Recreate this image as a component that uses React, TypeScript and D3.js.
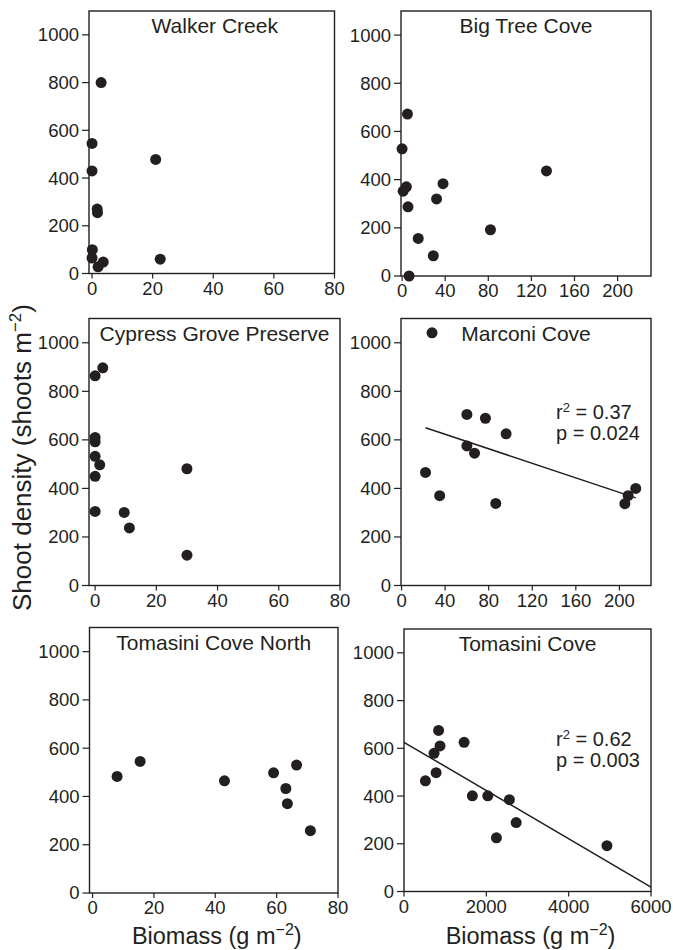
import React from 'react'
import { scaleLinear, mean } from 'd3'

type Pt = [number, number]

// tick values
const yTicks = [0, 200, 400, 600, 800, 1000]
const ticks80 = [0, 20, 40, 60, 80]
const ticks200 = [0, 40, 80, 120, 160, 200]
const ticks6000 = [0, 2000, 4000, 6000]

// biomass (g m-2), shoot density (shoots m-2)
const walkerCreek: Pt[] = [
  [3, 800], [0, 545], [0, 430], [21, 478], [1.7, 270], [1.8, 255],
  [0.1, 100], [0, 65], [2, 28], [3.7, 48], [22.5, 60]
]
const bigTreeCove: Pt[] = [
  [5, 672], [0, 528], [4, 370], [1, 352], [5.5, 287], [32, 320],
  [38, 383], [134, 436], [82, 192], [15, 156], [29, 84], [6.5, 0]
]
const cypressGrove: Pt[] = [
  [2.5, 897], [0, 864], [0, 610], [0, 592], [0, 532], [1.5, 497],
  [0, 450], [0, 305], [30, 481], [9.5, 301], [11.2, 237], [30, 125]
]
const marconiCove: Pt[] = [
  [28, 1041], [60, 705], [77, 689], [96, 625], [60, 575], [67, 545],
  [22, 466], [35, 370], [86.5, 338], [215, 400], [208, 370], [205, 337]
]
const tomasiniNorth: Pt[] = [
  [8, 483], [15.5, 545], [43, 465], [59, 498], [66.5, 530], [63, 433],
  [63.5, 370], [71, 258]
]
const tomasiniCove: Pt[] = [
  [840, 675], [875, 610], [730, 579], [780, 498], [520, 464], [1460, 625],
  [1660, 401], [2035, 401], [2560, 385], [2725, 289], [2245, 225], [4930, 192]
]

const marconiStats = { r2: '0.37', p: '0.024' }
const tomasiniStats = { r2: '0.62', p: '0.003' }

const INK = '#231f20'
const FONT = '"Liberation Sans", Arial, Helvetica, sans-serif'

type PanelDef = {
  title: string
  data: Pt[]
  xDomain: [number, number]
  xTicks: number[]
  frame: [number, number, number, number] // left, top, right, bottom
  titleDx?: number
  fit?: 'data' | 'axis'
  stats?: { r2: string; p: string }
  statsAt?: [number, number]
}

const panels: PanelDef[] = [
  { title: 'Walker Creek', data: walkerCreek, xDomain: [-1, 80], xTicks: ticks80, frame: [89, 11, 334.5, 273.5], titleDx: 3 },
  { title: 'Big Tree Cove', data: bigTreeCove, xDomain: [-1, 231], xTicks: ticks200, frame: [401, 11, 651, 276] },
  { title: 'Cypress Grove Preserve', data: cypressGrove, xDomain: [-2, 80], xTicks: ticks80, frame: [89, 318.5, 340, 585.5] },
  {
    title: 'Marconi Cove', data: marconiCove, xDomain: [-0.5, 229], xTicks: ticks200, frame: [401, 318.5, 651, 585.5],
    fit: 'data', stats: marconiStats, statsAt: [155, 100.5]
  },
  { title: 'Tomasini Cove North', data: tomasiniNorth, xDomain: [-1, 80], xTicks: ticks80, frame: [89.5, 627.5, 338, 893] },
  {
    title: 'Tomasini Cove', data: tomasiniCove, xDomain: [0, 6000], xTicks: ticks6000, frame: [404, 629, 651, 891.5],
    fit: 'axis', stats: tomasiniStats, statsAt: [152, 117]
  }
]

// ordinary least squares
const ols = (data: Pt[]) => {
  const mx = mean(data, (d) => d[0]) as number
  const my = mean(data, (d) => d[1]) as number
  let sxy = 0
  let sxx = 0
  data.forEach(([a, b]) => {
    sxy += (a - mx) * (b - my)
    sxx += (a - mx) * (a - mx)
  })
  const slope = sxy / sxx
  return { slope, intercept: my - slope * mx }
}

const Panel: React.FC<{ p: PanelDef }> = ({ p }) => {
  const [l, t, r, b] = p.frame
  const x = scaleLinear().domain(p.xDomain).range([l, r])
  const y = scaleLinear().domain([0, 1100]).range([b, t])

  let fitLine = null
  if (p.fit) {
    const { slope, intercept } = ols(p.data)
    const xs = p.data.map((d) => d[0])
    const x0 = p.fit === 'data' ? Math.min(...xs) : p.xDomain[0]
    const x1 = p.fit === 'data' ? Math.max(...xs) : p.xDomain[1]
    fitLine = (
      <line x1={x(x0)} y1={y(intercept + slope * x0)} x2={x(x1)} y2={y(intercept + slope * x1)}
        stroke={INK} strokeWidth={1.5} />
    )
  }

  return (
    <g>
      <rect x={l} y={t} width={r - l} height={b - t} fill="none" stroke={INK} strokeWidth={1.4} />
      {yTicks.map((v) => (
        <g key={'y' + v}>
          <line x1={l - 7} x2={l} y1={y(v)} y2={y(v)} stroke={INK} strokeWidth={1.2} />
          <text x={l - 10} y={y(v)} dy="0.35em" textAnchor="end" fontSize={18.5}>{v}</text>
        </g>
      ))}
      {p.xTicks.map((v) => (
        <g key={'x' + v}>
          <line x1={x(v)} x2={x(v)} y1={b} y2={b + 5} stroke={INK} strokeWidth={1.2} />
          <text x={x(v)} y={b + 8} dy="0.72em" textAnchor="middle" fontSize={18.5}>{v}</text>
        </g>
      ))}
      <text x={(l + r) / 2 + (p.titleDx || 0)} y={t + 22} textAnchor="middle" fontSize={21}>{p.title}</text>
      {fitLine}
      {p.data.map((d, i) => (
        <circle key={i} cx={x(d[0])} cy={y(d[1])} r={5.5} fill={INK} />
      ))}
      {p.stats && p.statsAt && (
        <g fontSize={20}>
          <text x={l + p.statsAt[0]} y={t + p.statsAt[1]}>
            r<tspan dy={-7} fontSize={13}>2</tspan><tspan dy={7}> = {p.stats.r2}</tspan>
          </text>
          <text x={l + p.statsAt[0]} y={t + p.statsAt[1] + 21}>p = {p.stats.p}</text>
        </g>
      )}
    </g>
  )
}

export default function App() {
  return (
    <svg width={673} height={950} style={{ position: 'absolute', left: 0, top: 0, background: '#fff' }}
      fontFamily={FONT} fill={INK}>
      {panels.map((p) => <Panel key={p.title} p={p} />)}
      <text transform="translate(31, 457.5) rotate(-90)" textAnchor="middle" fontSize={26}>
        Shoot density (shoots m<tspan dy={-10} fontSize={17}>−2</tspan><tspan dy={10}>)</tspan>
      </text>
      {[panels[4], panels[5]].map((p) => (
        <text key={'xl' + p.title} x={(p.frame[0] + p.frame[2]) / 2 + 3} y={944} textAnchor="middle" fontSize={23.5}>
          Biomass (g m<tspan dy={-9} fontSize={16}>−2</tspan><tspan dy={9}>)</tspan>
        </text>
      ))}
    </svg>
  )
}
